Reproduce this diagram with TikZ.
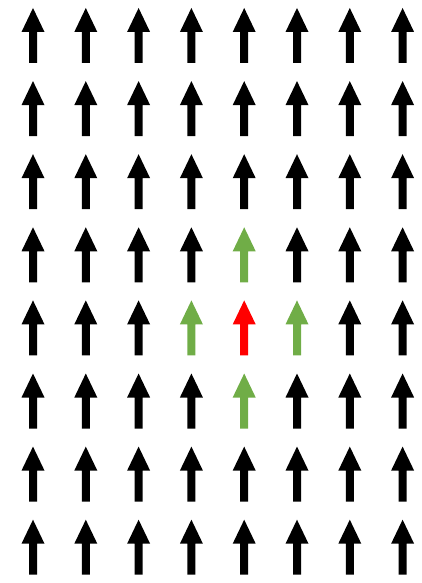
\documentclass[tikz,border=0pt]{standalone}
\usetikzlibrary{positioning}
\definecolor{spingreen}{HTML}{70AD47}
\tikzset{
  spin/.pic={\path[pic actions] (-4,55) -- (-4,24) -- (-11.5,24) -- (0,0)
    -- (11.5,24) -- (4,24) -- (4,55) -- cycle;},
  spin0/.style={fill=red},
  spin1/.style={fill=spingreen},
  spin2/.style={fill=black},
}

\begin{document}
\begin{tikzpicture}[x=1pt,y=-1pt]
  \useasboundingbox (0,0) rectangle (422,583);
  \foreach \i in {1,...,8}
    \foreach \j in {1,...,8}{
      \pgfmathtruncatemacro\d{min(abs(\i-5)+abs(\j-5),2)}
      \pic[spin\d] at ({33+52.8*(\i-1)},{8+73.1*(\j-1)}) {spin};
    }
\end{tikzpicture}
\end{document}
